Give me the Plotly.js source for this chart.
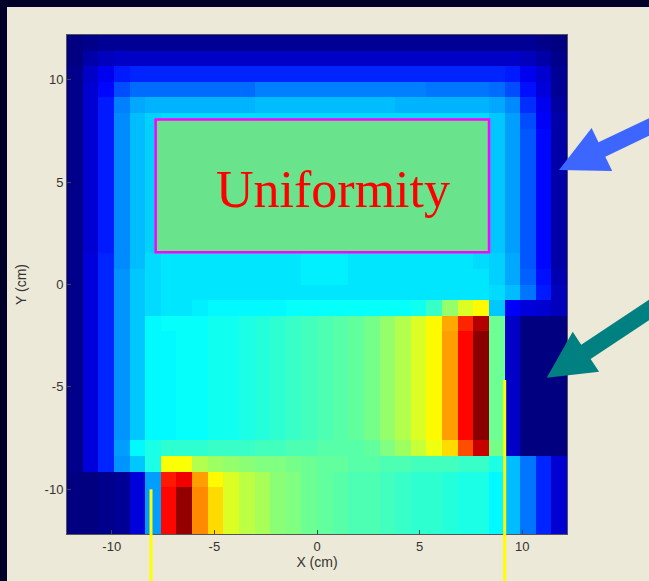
<!DOCTYPE html>
<html><head><meta charset="utf-8">
<script src="https://cdn.plot.ly/plotly-3.0.1.min.js"></script>
<style>
html,body{margin:0;padding:0;background:#000028;width:649px;height:581px;overflow:hidden;}
#chart{position:absolute;left:7px;top:7px;width:642px;height:574px;}
</style></head><body><div id="chart"></div>
<script>
// ---- data ----
const xTitle = 'X (cm)';
const yTitle = 'Y (cm)';
const tickValues = [-10, -5, 0, 5, 10];
const tickLabels = ['-10', '-5', '0', '5', '10'];
const gridMin = -12.18, gridMax = 12.18, nCells = 32;
const boxLabel = 'Uniformity';
const boxX = [-7.86, 8.38];
const boxY = [1.58, 8.05];
// relative dose per cell (0-100), rows listed from top (y=+12) to bottom (y=-12)
const zTopToBottom = [
 [0,1,2,2,2,2,2,2,2,2,2,2,2,2,2,2,2,2,2,2,2,2,2,2,2,2,2,2,2,2,1,0],
 [0,4,6,7,7,7,7,7,7,7,7,7,7,7,7,7,7,7,7,7,7,7,7,7,7,7,7,7,7,6,4,1],
 [1,7,11,15,16,16,16,16,16,16,16,16,16,16,16,16,16,16,16,16,16,16,16,16,16,16,16,16,15,11,8,2],
 [1,8,13,20,23,23,23,23,23,23,23,23,25,25,25,25,25,25,25,25,25,25,25,24,24,24,24,23,20,14,9,2],
 [1,8,15,25,29,30,30,30,30,30,30,30,31,31,31,31,31,31,31,31,31,30,30,30,30,30,30,29,26,17,11,3],
 [1,8,15,26,31,33,34,34,34,34,34,34,34,34,34,34,34,34,34,34,34,34,34,34,34,34,34,32,28,20,12,4],
 [1,8,15,26,31,33,34,34,34,34,34,34,34,34,34,34,34,34,34,34,34,34,34,34,34,34,34,32,28,21,13,4],
 [1,8,15,26,31,33,34,34,34,34,34,34,34,34,34,34,34,34,34,34,34,34,34,34,34,34,34,32,28,21,13,4],
 [1,8,15,26,31,33,34,34,34,34,34,34,34,34,34,34,34,34,34,34,34,34,34,34,34,34,34,32,28,21,13,4],
 [1,8,15,26,31,33,34,34,34,34,34,34,34,34,34,34,34,34,34,34,34,34,34,34,34,34,34,32,28,21,13,4],
 [1,8,15,26,31,33,34,34,34,34,34,34,34,34,34,34,34,34,34,34,34,34,34,34,34,34,34,32,28,21,13,4],
 [1,8,15,26,31,33,34,34,34,34,34,34,34,34,34,34,34,34,34,34,34,34,34,34,34,34,34,32,28,21,13,4],
 [1,8,15,26,31,33,34,34,34,34,34,34,34,34,34,34,34,34,34,34,34,34,34,34,34,34,34,32,28,21,13,4],
 [1,8,15,26,31,33,34,34,34,34,34,34,34,34,34,34,34,34,34,34,34,34,34,34,34,34,34,32,28,21,13,4],
 [1,9,16,26,31,34,35,35,35,35,35,35,35,35,35,36,36,36,35,35,35,35,35,35,35,35,34,33,29,21,13,4],
 [1,9,16,27,32,34,35,35,35,35,35,35,35,35,35,36,36,36,35,35,35,35,35,35,35,35,35,33,29,22,14,5],
 [1,9,16,27,32,34,35,35,35,35,35,35,35,35,35,35,35,35,35,35,35,35,35,35,35,35,35,34,31,24,15,6],
 [1,9,16,27,32,34,35,35,36,37,37,37,37,37,38,38,38,38,38,38,38,38,39,43,52,59,63,32,12,9,8,6],
 [1,9,16,27,32,37,38,38,38,39,39,40,41,42,43,44,45,46,47,49,52,55,59,63,71,84,95,48,7,0,0,0],
 [1,9,16,27,32,37,37,38,38,39,39,40,41,42,43,44,45,46,47,49,52,55,59,63,72,87,99,48,7,0,0,0],
 [1,9,16,27,32,37,37,38,38,39,39,40,41,42,43,44,45,46,47,49,52,55,59,63,72,87,99,48,7,0,0,0],
 [1,9,16,27,32,37,37,38,38,39,39,40,41,42,43,44,45,46,47,49,52,55,59,63,72,87,99,48,7,0,0,0],
 [1,9,16,27,32,37,37,38,38,39,39,40,41,42,43,44,45,46,47,49,52,55,59,63,72,87,99,48,7,0,0,0],
 [1,9,16,27,32,37,37,38,38,39,39,40,41,42,43,44,45,46,47,49,52,55,59,63,72,87,99,48,7,0,0,0],
 [1,9,16,27,32,37,37,38,38,39,39,40,41,42,43,44,45,46,47,49,52,55,59,63,72,87,99,48,7,0,0,0],
 [1,9,16,27,32,37,37,38,38,39,39,40,41,42,43,44,45,46,47,49,52,55,59,63,72,87,99,48,7,0,0,0],
 [1,9,16,28,37,40,42,42,42,43,43,43,44,44,45,45,46,46,46,47,50,53,57,61,66,80,93,49,7,0,0,0],
 [1,9,16,27,32,40,62,62,55,53,52,51,50,50,49,48,47,47,46,46,45,45,44,44,44,43,43,40,31,24,16,8],
 [0,0,1,2,9,28,85,89,72,63,59,56,54,51,50,48,47,46,45,45,44,43,42,42,41,40,40,37,31,24,16,8],
 [0,0,1,2,9,28,87,98,74,66,59,56,54,51,50,48,47,46,45,45,44,43,42,42,41,40,40,37,31,24,16,8],
 [0,0,1,2,9,28,87,98,74,66,59,56,54,51,50,48,47,46,45,45,44,43,42,42,41,40,40,37,31,24,16,8],
 [0,0,1,2,9,28,87,98,74,66,59,56,54,51,50,48,47,46,45,45,44,43,42,42,41,40,40,37,31,24,16,8]
];

// ---- drawing ----
const cell = (gridMax - gridMin) / nCells;
const zBottomUp = zTopToBottom.slice().reverse();
const jet = [[0,'rgb(0,0,128)'],[0.125,'rgb(0,0,255)'],[0.375,'rgb(0,255,255)'],
             [0.625,'rgb(255,255,0)'],[0.875,'rgb(255,0,0)'],[1,'rgb(128,0,0)']];

// page-pixel -> paper helpers for overlay decorations (plot area: x 67..567, y 35..534)
const PX = p => (p - 67) / 500;
const PY = p => (534 - p) / 499;
const poly = pts => 'M ' + pts.map(p => PX(p[0]).toFixed(4) + ',' + PY(p[1]).toFixed(4)).join(' L ') + ' Z';

const blueArrow = poly([[559,170],[591.6,127.9],[598.5,142.3],[654.8,115.4],[661.7,129.8],[605.3,156.7],[612.2,171.1]]);
const tealArrow = poly([[546.7,377.7],[572.7,331.8],[581.2,344.7],[650.4,298.8],[659.8,313.0],[590.6,358.9],[599.1,371.8]]);

const tickFont = {family: 'Liberation Sans, Arial, sans-serif', size: 13, color: '#333'};
const titleFont = {family: 'Liberation Sans, Arial, sans-serif', size: 14, color: '#333'};

const trace = {
  type: 'heatmap', z: zBottomUp,
  x0: gridMin + cell / 2, dx: cell, y0: gridMin + cell / 2, dy: cell,
  colorscale: jet, zmin: 0, zmax: 100, zsmooth: false, showscale: false, hoverinfo: 'skip'
};

const axisCommon = {
  range: [gridMin, gridMax], tickmode: 'array', tickvals: tickValues, ticktext: tickLabels,
  ticks: 'inside', ticklen: 4, tickcolor: '#444', showline: true, linecolor: '#555', linewidth: 1,
  mirror: true, showgrid: false, zeroline: false, tickfont: tickFont, automargin: false
};

const layout = {
  width: 642, height: 574,
  margin: {l: 60, r: 82, t: 28, b: 47, pad: 0},
  paper_bgcolor: 'rgb(236,233,216)', plot_bgcolor: 'rgb(236,233,216)',
  xaxis: Object.assign({}, axisCommon, {title: {text: xTitle, font: titleFont, standoff: 4}}),
  yaxis: Object.assign({}, axisCommon, {title: {text: yTitle, font: titleFont, standoff: 14}}),
  shapes: [
    {type: 'rect', xref: 'x', yref: 'y', x0: boxX[0], x1: boxX[1], y0: boxY[0], y1: boxY[1],
     line: {color: 'rgb(255,0,255)', width: 2.5}, fillcolor: 'rgb(105,228,140)', layer: 'above'},
    {type: 'line', xref: 'paper', yref: 'paper', x0: PX(151), x1: PX(151), y0: PY(489.3), y1: PY(585),
     line: {color: 'rgb(255,255,0)', width: 3}},
    {type: 'line', xref: 'paper', yref: 'paper', x0: PX(504.7), x1: PX(504.7), y0: PY(380), y1: PY(585),
     line: {color: 'rgb(255,255,0)', width: 3}},
    {type: 'path', xref: 'paper', yref: 'paper', path: blueArrow,
     fillcolor: 'rgb(60,102,255)', line: {width: 0}},
    {type: 'path', xref: 'paper', yref: 'paper', path: tealArrow,
     fillcolor: 'rgb(0,128,128)', line: {width: 0}}
  ],
  annotations: [
    {text: boxLabel, xref: 'x', yref: 'y', x: 0.78, y: 4.63, showarrow: false,
     xanchor: 'center', yanchor: 'middle',
     font: {family: 'Liberation Serif, Times New Roman, serif', size: 52, color: 'rgb(255,0,0)'}}
  ]
};

Plotly.newPlot('chart', [trace], layout, {staticPlot: true, displayModeBar: false});
</script></body></html>
